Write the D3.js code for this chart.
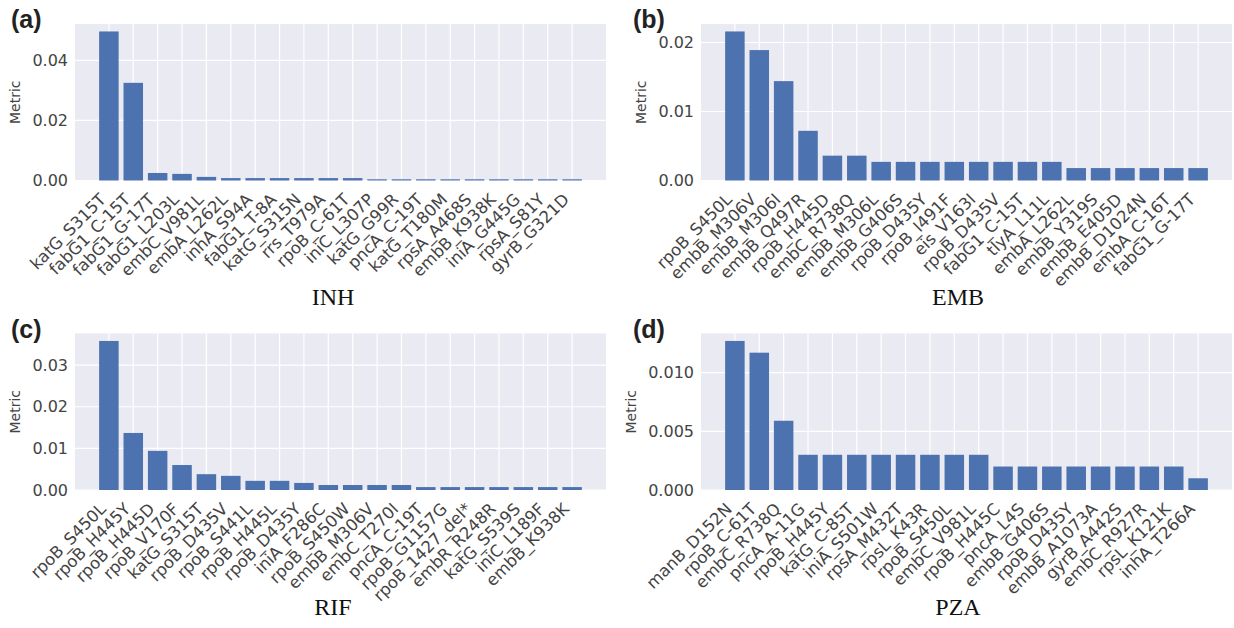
<!DOCTYPE html>
<html>
<head>
<meta charset="utf-8">
<script src="https://cdn.jsdelivr.net/npm/d3@7"></script>
<style>
  body { margin: 0; background: #fff; }
  svg { display: block; }
  .tick-label { font-family: "DejaVu Sans", sans-serif; fill: #444; }
</style>
</head>
<body>
<div id="chart"></div>
<script>
// ---- data ----
var inhLabels = ["katG_S315T", "fabG1_C-15T", "fabG1_G-17T", "fabG1_L203L", "embC_V981L", "embA_L262L", "inhA_S94A", "fabG1_T-8A", "katG_S315N", "rrs_T979A", "rpoB_C-61T", "iniC_L307P", "katG_G99R", "pncA_C-19T", "katG_T180M", "rpsA_A468S", "embB_K938K", "iniA_G445G", "rpsA_S81Y", "gyrB_G321D"];
var inhValues = [0.0496, 0.0325, 0.0025, 0.0022, 0.0012, 0.0008, 0.0008, 0.0008, 0.0008, 0.0008, 0.0008, 0.0004, 0.0004, 0.0004, 0.0004, 0.0004, 0.0004, 0.0004, 0.0004, 0.0004];
var inhTicks = [0, 0.02, 0.04];

var embLabels = ["rpoB_S450L", "embB_M306V", "embB_M306I", "embB_Q497R", "rpoB_H445D", "embC_R738Q", "embB_M306L", "embB_G406S", "rpoB_D435Y", "rpoB_I491F", "eis_V163I", "rpoB_D435V", "fabG1_C-15T", "tlyA_L11L", "embA_L262L", "embB_Y319S", "embB_E405D", "embB_D1024N", "embA_C-16T", "fabG1_G-17T"];
var embValues = [0.0216, 0.0189, 0.0144, 0.0072, 0.0036, 0.0036, 0.0027, 0.0027, 0.0027, 0.0027, 0.0027, 0.0027, 0.0027, 0.0027, 0.0018, 0.0018, 0.0018, 0.0018, 0.0018, 0.0018];
var embTicks = [0, 0.01, 0.02];

var rifLabels = ["rpoB_S450L", "rpoB_H445Y", "rpoB_H445D", "rpoB_V170F", "katG_S315T", "rpoB_D435V", "rpoB_S441L", "rpoB_H445L", "rpoB_D435Y", "iniA_F286C", "rpoB_S450W", "embB_M306V", "embC_T270I", "pncA_C-19T", "rpoB_G1157G", "rpoB_1427_del*", "embR_R248R", "katG_S539S", "iniC_L189F", "embB_K938K"];
var rifValues = [0.0358, 0.0137, 0.0094, 0.0060, 0.0038, 0.0034, 0.0022, 0.0022, 0.0017, 0.0012, 0.0012, 0.0012, 0.0012, 0.0007, 0.0007, 0.0007, 0.0007, 0.0007, 0.0007, 0.0007];
var rifTicks = [0, 0.01, 0.02, 0.03];

var pzaLabels = ["manB_D152N", "rpoB_C-61T", "embC_R738Q", "pncA_A-11G", "rpoB_H445Y", "katG_C-85T", "iniA_S501W", "rpsA_M432T", "rpsL_K43R", "rpoB_S450L", "embC_V981L", "rpoB_H445C", "pncA_L4S", "embB_G406S", "rpoB_D435Y", "embB_A1073A", "gyrB_A442S", "embC_R927R", "rpsL_K121K", "inhA_T266A"];
var pzaValues = [0.0127, 0.0117, 0.0059, 0.003, 0.003, 0.003, 0.003, 0.003, 0.003, 0.003, 0.003, 0.002, 0.002, 0.002, 0.002, 0.002, 0.002, 0.002, 0.002, 0.001];
var pzaTicks = [0, 0.005, 0.010];

var svgWidth = 1234;
var svgHeight = 628;

var svg = d3.select("#chart")
  .append("svg")
  .attr("width", svgWidth)
  .attr("height", svgHeight);

// one seaborn-darkgrid style bar panel
function drawPanel(opt) {
  var g = svg.append("g");

  var x = d3.scaleBand()
    .domain(opt.labels)
    .range([opt.left, opt.right])
    .paddingInner(0.2)
    .paddingOuter(0.99);

  var y = d3.scaleLinear()
    .domain([0, d3.max(opt.values) * 1.05])
    .range([opt.bottom, opt.top]);

  // background
  g.append("rect")
    .attr("x", opt.left)
    .attr("y", opt.top)
    .attr("width", opt.right - opt.left)
    .attr("height", opt.bottom - opt.top)
    .attr("fill", "#eaeaf2");

  // grid
  g.selectAll(".vgrid")
    .data(opt.labels)
    .enter()
    .append("line")
    .attr("x1", d => x(d) + x.bandwidth() / 2)
    .attr("x2", d => x(d) + x.bandwidth() / 2)
    .attr("y1", opt.top)
    .attr("y2", opt.bottom)
    .attr("stroke", "#fff")
    .attr("stroke-width", 1.2);

  g.selectAll(".hgrid")
    .data(opt.ticks)
    .enter()
    .append("line")
    .attr("x1", opt.left)
    .attr("x2", opt.right)
    .attr("y1", d => y(d))
    .attr("y2", d => y(d))
    .attr("stroke", "#fff")
    .attr("stroke-width", 1.2);

  // bars
  g.selectAll(".bar")
    .data(opt.values)
    .enter()
    .append("rect")
    .attr("x", (d, i) => x(opt.labels[i]))
    .attr("y", d => y(d))
    .attr("width", x.bandwidth())
    .attr("height", d => opt.bottom - y(d))
    .attr("fill", "#4c72b0");

  // y axis (no tick marks, no domain line)
  var leftAxis = d3.axisLeft(y)
    .tickValues(opt.ticks)
    .tickFormat(d3.format(opt.fmt))
    .tickSize(0)
    .tickPadding(7);

  var yAxis = g.append("g")
    .attr("transform", `translate(${opt.left}, 0)`)
    .call(leftAxis);
  yAxis.select(".domain").remove();
  yAxis.selectAll("text")
    .attr("class", "tick-label")
    .attr("font-size", 16)
    .attr("fill", "#444");

  var maxW = 0;
  yAxis.selectAll("text").each(function() {
    maxW = Math.max(maxW, this.getComputedTextLength());
  });

  // x tick labels, rotated 45 deg, right aligned
  var bottomAxis = d3.axisBottom(x)
    .tickSize(0)
    .tickPadding(0);
  var xAxis = g.append("g")
    .attr("transform", `translate(0, ${opt.bottom})`)
    .call(bottomAxis);
  xAxis.select(".domain").remove();
  xAxis.selectAll("text")
    .attr("class", "tick-label")
    .attr("font-size", 16.5)
    .attr("fill", "#444")
    .attr("text-anchor", "end")
    .attr("y", 0)
    .attr("dy", 0)
    .attr("transform", "translate(-2, 20) rotate(-45)");

  // y label
  g.append("text")
    .attr("transform", `translate(${opt.left - 7 - maxW - 12}, ${(opt.top + opt.bottom) / 2}) rotate(-90)`)
    .attr("text-anchor", "middle")
    .attr("font-family", "DejaVu Sans, sans-serif")
    .attr("font-size", 14)
    .attr("fill", "#444")
    .text("Metric");

  // drug name under the panel
  g.append("text")
    .attr("x", opt.titleX)
    .attr("y", opt.titleY)
    .attr("text-anchor", "middle")
    .attr("font-family", "Liberation Serif, serif")
    .attr("font-size", 24)
    .attr("fill", "#111")
    .text(opt.title);

  // panel letter
  g.append("text")
    .attr("x", opt.letterX)
    .attr("y", opt.letterY)
    .attr("font-family", "Liberation Sans, Arial, sans-serif")
    .attr("font-weight", "bold")
    .attr("font-size", 25)
    .attr("fill", "#222")
    .text(opt.letter);
}

drawPanel({ labels: inhLabels, values: inhValues, ticks: inhTicks, fmt: ".2f",
  left: 75, right: 606, top: 24, bottom: 180.5,
  title: "INH", titleX: 333, titleY: 305, letter: "(a)", letterX: 11, letterY: 28 });

drawPanel({ labels: embLabels, values: embValues, ticks: embTicks, fmt: ".2f",
  left: 701, right: 1232, top: 24, bottom: 180.5,
  title: "EMB", titleX: 958, titleY: 305, letter: "(b)", letterX: 633, letterY: 28 });

drawPanel({ labels: rifLabels, values: rifValues, ticks: rifTicks, fmt: ".2f",
  left: 75, right: 606, top: 333.5, bottom: 490,
  title: "RIF", titleX: 333, titleY: 615, letter: "(c)", letterX: 11, letterY: 338 });

drawPanel({ labels: pzaLabels, values: pzaValues, ticks: pzaTicks, fmt: ".3f",
  left: 701, right: 1232, top: 333.5, bottom: 490,
  title: "PZA", titleX: 958, titleY: 615, letter: "(d)", letterX: 633, letterY: 338 });
</script>
</body>
</html>
